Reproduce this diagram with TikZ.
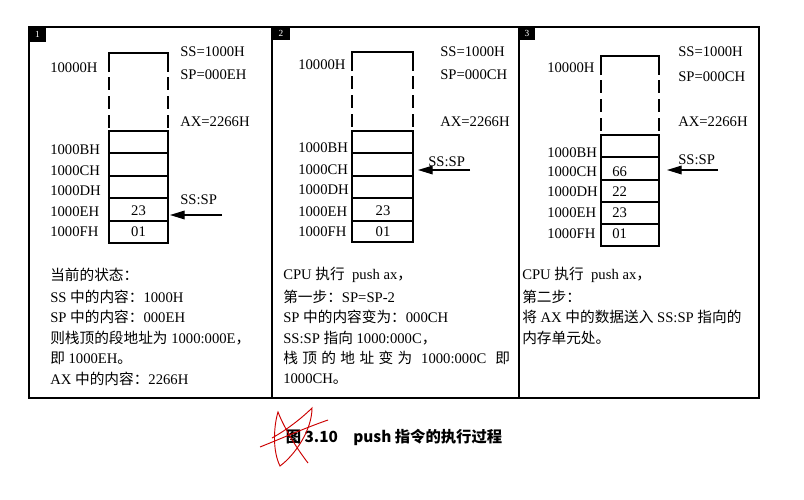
\documentclass[tikz,border=0pt]{standalone}
\usepackage{fontspec}
\setmainfont{Liberation Serif}
\newfontfamily\cjk{Noto Sans CJK SC}
\usetikzlibrary{arrows.meta}
\newcommand{\zh}[1]{{\cjk #1}}
\newcommand{\drawstack}[9]{%
  \draw[stk] (#1,#3+19) -- (#1,#3) -- (#2,#3) -- (#2,#3+19);
  \draw[dsh] (#1,#3+24) -- (#1,#4);
  \draw[dsh] (#2,#3+24) -- (#2,#4);
  \draw[stk] (#1,#4) rectangle (#2,#9);
  \draw[stk] (#1,#5) -- (#2,#5) (#1,#6) -- (#2,#6) (#1,#7) -- (#2,#7) (#1,#8) -- (#2,#8);
}
\begin{document}
\begin{tikzpicture}[x=0.75pt,y=-0.75pt,
  lbl/.style={anchor=west,inner sep=0,font=\fontsize{11}{13}\selectfont},
  val/.style={inner sep=0,font=\fontsize{11}{13}\selectfont},
  frame/.style={line width=1.5pt},
  stk/.style={line width=1.1pt},
  dsh/.style={line width=1.1pt,dash pattern=on 9.75pt off 4.5pt},
  ptr/.style={line width=0.9pt,-{Triangle[length=11pt,width=6.5pt]}},
  numbox/.style={fill=black,inner sep=0,text=white,font=\fontsize{7}{7}\selectfont},
  scrib/.style={red!80!black,line width=0.7pt}]
\useasboundingbox (0,0) rectangle (804,500);
\fill[white] (0,0) rectangle (804,500);
% frame
\draw[frame] (29,27) rectangle (759,398);
\draw[frame] (272,27) -- (272,398);
\draw[frame] (519,27) -- (519,398);
\node[numbox,minimum width=12pt,minimum height=11pt] (n1) at (37.5,34.5) {1};
\node[numbox,minimum width=13pt,minimum height=10pt] (n2) at (281,33.5) {2};
\node[numbox,minimum width=12pt,minimum height=10pt] (n3) at (527,33.5) {3};

% ---------- panel 1 ----------
\drawstack{109}{168}{53}{131}{153}{176}{198}{221}{243}
\node[lbl] (p1a0) at (50,68) {10000H};
\node[lbl] (p1a1) at (50,150) {1000BH};
\node[lbl] (p1a2) at (50,171) {1000CH};
\node[lbl] (p1a3) at (50,191) {1000DH};
\node[lbl] (p1a4) at (50,212) {1000EH};
\node[lbl] (p1a5) at (50,232) {1000FH};
\node[val] (p1v4) at (138.5,211) {23};
\node[val] (p1v5) at (138.5,232) {01};
\node[lbl] (p1ss) at (180,52) {SS=1000H};
\node[lbl] (p1sp) at (180,75) {SP=000EH};
\node[lbl] (p1ax) at (180,122) {AX=2266H};
\node[lbl] (p1ptr) at (180,200) {SS:SP};
\coordinate (p1s) at (222,215);
\coordinate (p1e) at (170,215);
\draw[ptr] (p1s) -- (p1e);
\node[lbl] (p1t1) at (50,275) {\zh{当前的状态：}};
\node[lbl] (p1t2) at (50,297) {SS \zh{中的内容：}1000H};
\node[lbl] (p1t3) at (50,317) {SP \zh{中的内容：}000EH};
\node[lbl] (p1t4) at (50,338) {\zh{则栈顶的段地址为} 1000:000E\zh{，}};
\node[lbl] (p1t5) at (50,358) {\zh{即} 1000EH\zh{。}};
\node[lbl] (p1t6) at (50,379) {AX \zh{中的内容：}2266H};

% ---------- panel 2 ----------
\drawstack{352}{413}{52}{131}{153}{176}{198}{221}{242}
\node[lbl] (p2a0) at (298,65) {10000H};
\node[lbl] (p2a1) at (298,148) {1000BH};
\node[lbl] (p2a2) at (298,170) {1000CH};
\node[lbl] (p2a3) at (298,190) {1000DH};
\node[lbl] (p2a4) at (298,212) {1000EH};
\node[lbl] (p2a5) at (298,232) {1000FH};
\node[val] (p2v4) at (383,211) {23};
\node[val] (p2v5) at (383,232) {01};
\node[lbl] (p2ss) at (440,52) {SS=1000H};
\node[lbl] (p2sp) at (440,75) {SP=000CH};
\node[lbl] (p2ax) at (440,122) {AX=2266H};
\node[lbl] (p2ptr) at (428,162) {SS:SP};
\coordinate (p2s) at (470,170);
\coordinate (p2e) at (418,170);
\draw[ptr] (p2s) -- (p2e);
\node[lbl] (p2t1) at (283,275) {CPU \zh{执行}\ \ push ax\zh{，}};
\node[lbl] (p2t2) at (283,297) {\zh{第一步：}SP=SP-2};
\node[lbl] (p2t3) at (283,317) {SP \zh{中的内容变为：}000CH};
\node[lbl] (p2t4) at (283,338) {SS:SP \zh{指向} 1000:000C\zh{，}};
\node[lbl] (p2t5) at (283,358) {\makebox[170pt][s]{\zh{栈} \zh{顶} \zh{的} \zh{地} \zh{址} \zh{变} \zh{为} \ 1000:000C \ \zh{即}}};
\node[lbl] (p2t6) at (283,379) {1000CH\zh{。}};

% ---------- panel 3 ----------
\drawstack{601}{659}{56}{135}{157}{180}{202}{224}{246}
\node[lbl] (p3a0) at (547,68) {10000H};
\node[lbl] (p3a1) at (547,153) {1000BH};
\node[lbl] (p3a2) at (547,172) {1000CH};
\node[lbl] (p3a3) at (547,192) {1000DH};
\node[lbl] (p3a4) at (547,213) {1000EH};
\node[lbl] (p3a5) at (547,234) {1000FH};
\node[lbl] (p3v2) at (612,172) {66};
\node[lbl] (p3v3) at (612,192) {22};
\node[lbl] (p3v4) at (612,213) {23};
\node[lbl] (p3v5) at (612,234) {01};
\node[lbl] (p3ss) at (678,52) {SS=1000H};
\node[lbl] (p3sp) at (678,77) {SP=000CH};
\node[lbl] (p3ax) at (678,122) {AX=2266H};
\node[lbl] (p3ptr) at (678,160) {SS:SP};
\coordinate (p3s) at (718,170);
\coordinate (p3e) at (667,170);
\draw[ptr] (p3s) -- (p3e);
\node[lbl] (p3t1) at (522,275) {CPU \zh{执行}\ \ push ax\zh{，}};
\node[lbl] (p3t2) at (522,297) {\zh{第二步：}};
\node[lbl] (p3t3) at (522,317) {\zh{将} AX \zh{中的数据送入} SS:SP \zh{指向的}};
\node[lbl] (p3t4) at (522,338) {\zh{内存单元处。}};

% ---------- caption ----------
\node[inner sep=0,font=\fontsize{11.5}{13}\selectfont\cjk\bfseries] (cap) at (394,437) {图 3.10\quad push 指令的执行过程};
\draw[scrib] (272,438) .. controls (290,428) and (305,415) .. (312,408)
  .. controls (312,430) and (295,455) .. (280,466)
  .. controls (272,450) and (274,425) .. (278,412)
  .. controls (285,430) and (298,450) .. (308,463);
\draw[scrib] (260,447) .. controls (285,437) and (305,428) .. (328,420);
\end{tikzpicture}
\end{document}
